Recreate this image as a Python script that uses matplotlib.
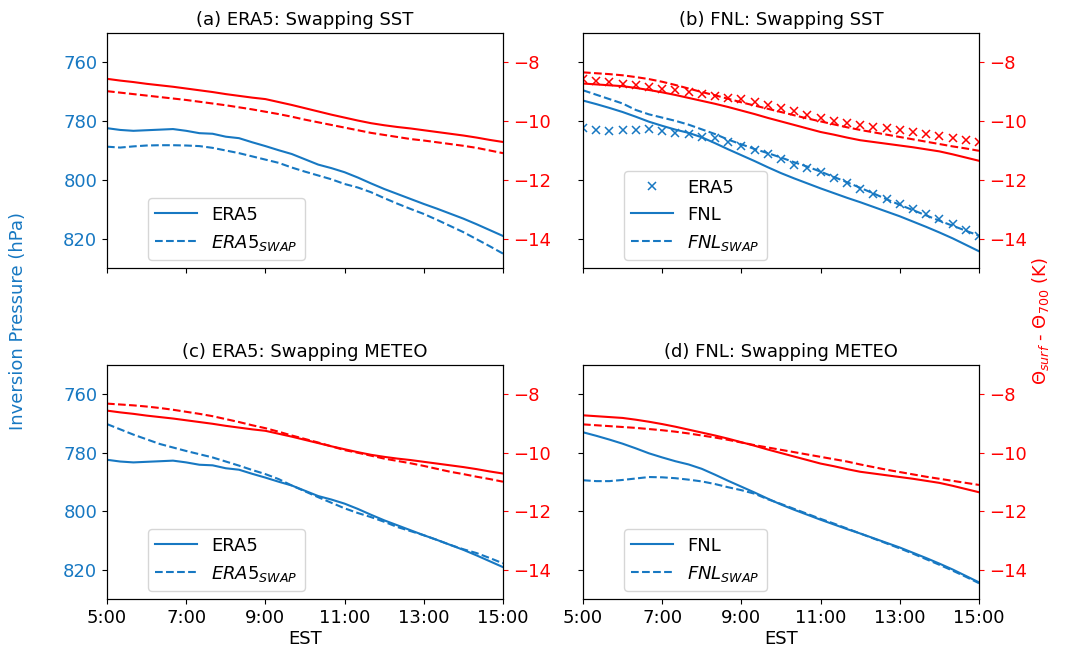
import numpy as np
import matplotlib
matplotlib.use("Agg")
import matplotlib.pyplot as plt

# time axis: 20-minute steps from 5:00 to 15:00 EST
hours = 5 + np.arange(31) / 3.0
xticks = [5, 7, 9, 11, 13, 15]
xticklabels = ["5:00", "7:00", "9:00", "11:00", "13:00", "15:00"]

# inversion pressure (hPa)
era5_p = [782.4, 783.0, 783.3, 783.1, 782.9, 782.7, 783.3, 784.1, 784.3, 785.3,
          785.8, 787.2, 788.5, 789.9, 791.2, 793.0, 794.8, 796.0, 797.4, 799.2,
          801.2, 803.1, 804.8, 806.5, 808.2, 809.8, 811.5, 813.2, 815.1, 817.1, 819.1]
era5_sst_p = [788.7, 789.0, 788.6, 788.3, 788.2, 788.2, 788.3, 788.5, 789.1, 790.0,
              790.9, 792.0, 793.1, 794.2, 795.8, 797.2, 798.5, 799.8, 801.4, 802.6,
              804.2, 806.2, 808.1, 809.9, 811.6, 813.6, 815.7, 817.8, 820.2, 822.6, 825.1]
era5_met_p = [770.2, 772.0, 773.8, 775.4, 777.0, 778.2, 779.4, 780.5, 781.6, 783.0,
              784.4, 785.9, 787.3, 789.0, 791.2, 793.2, 795.2, 797.1, 799.0, 800.6,
              802.0, 803.6, 805.4, 806.8, 808.2, 809.8, 811.5, 813.0, 814.3, 816.0, 817.8]
fnl_p = [773.0, 774.2, 775.5, 776.9, 778.5, 780.2, 781.6, 782.9, 784.0, 785.5,
         787.5, 789.6, 791.6, 793.6, 795.7, 797.7, 799.5, 801.2, 802.9, 804.5,
         806.1, 807.6, 809.2, 810.8, 812.4, 814.2, 816.0, 817.9, 819.9, 822.1, 824.3]
fnl_sst_p = [769.5, 771.0, 772.5, 774.0, 776.2, 777.7, 778.8, 779.9, 781.2, 782.8,
             784.4, 786.3, 787.9, 789.5, 790.9, 792.4, 794.0, 795.5, 797.2, 799.0,
             800.8, 802.7, 804.6, 806.6, 808.5, 810.3, 812.1, 813.9, 815.6, 817.3, 819.0]
fnl_met_p = [789.4, 789.7, 789.7, 789.3, 788.8, 788.3, 788.4, 788.7, 789.2, 789.8,
             790.7, 791.8, 792.8, 794.0, 795.9, 797.5, 799.2, 800.9, 802.6, 804.2,
             805.9, 807.6, 809.3, 811.0, 812.7, 814.5, 816.4, 818.3, 820.3, 822.4, 824.6]

# theta_surf - theta_700 (K)
era5_t = [-8.56, -8.62, -8.67, -8.73, -8.78, -8.83, -8.89, -8.95, -9.01, -9.08,
          -9.14, -9.20, -9.25, -9.35, -9.45, -9.56, -9.67, -9.78, -9.88, -9.98,
          -10.07, -10.14, -10.20, -10.25, -10.31, -10.37, -10.43, -10.49, -10.56, -10.64, -10.71]
era5_sst_t = [-8.98, -9.03, -9.08, -9.13, -9.18, -9.23, -9.28, -9.34, -9.40, -9.46,
              -9.53, -9.60, -9.68, -9.76, -9.85, -9.95, -10.04, -10.13, -10.22, -10.31,
              -10.40, -10.47, -10.54, -10.61, -10.66, -10.72, -10.78, -10.84, -10.91, -11.00, -11.09]
era5_met_t = [-8.32, -8.35, -8.38, -8.42, -8.47, -8.53, -8.60, -8.67, -8.75, -8.85,
              -8.95, -9.06, -9.16, -9.28, -9.41, -9.53, -9.65, -9.78, -9.91, -10.00,
              -10.10, -10.20, -10.28, -10.36, -10.45, -10.55, -10.65, -10.73, -10.82, -10.90, -10.99]
fnl_t = [-8.72, -8.75, -8.78, -8.81, -8.87, -8.94, -9.02, -9.11, -9.21, -9.31,
         -9.41, -9.52, -9.64, -9.76, -9.89, -10.01, -10.13, -10.25, -10.37, -10.46,
         -10.56, -10.65, -10.71, -10.77, -10.83, -10.89, -10.96, -11.03, -11.13, -11.24, -11.35]
fnl_sst_t = [-8.34, -8.37, -8.40, -8.44, -8.50, -8.57, -8.66, -8.77, -8.89, -9.01,
             -9.12, -9.24, -9.36, -9.47, -9.58, -9.69, -9.80, -9.91, -10.01, -10.11,
             -10.21, -10.30, -10.38, -10.46, -10.54, -10.62, -10.70, -10.78, -10.86, -10.93, -11.01]
fnl_met_t = [-9.03, -9.06, -9.09, -9.12, -9.15, -9.19, -9.23, -9.28, -9.34, -9.41,
             -9.48, -9.56, -9.65, -9.74, -9.82, -9.90, -9.98, -10.06, -10.14, -10.22,
             -10.30, -10.40, -10.49, -10.58, -10.66, -10.74, -10.82, -10.89, -10.96, -11.03, -11.10]

BLUE = "#1778c2"
RED = "#ff0000"
FS = 13

fig = plt.figure(figsize=(10.69, 6.48), dpi=100)

W, H = 396 / 1069, 235 / 648
positions = {
    "a": [107 / 1069, 380 / 648, W, H],
    "b": [583 / 1069, 380 / 648, W, H],
    "c": [107 / 1069, 49 / 648, W, 234 / 648],
    "d": [583 / 1069, 49 / 648, W, 234 / 648],
}

panels = [
    ("a", "(a) ERA5: Swapping SST", era5_p, era5_sst_p, era5_t, era5_sst_t, "ERA5", False),
    ("b", "(b) FNL: Swapping SST", fnl_p, fnl_sst_p, fnl_t, fnl_sst_t, "FNL", True),
    ("c", "(c) ERA5: Swapping METEO", era5_p, era5_met_p, era5_t, era5_met_t, "ERA5", False),
    ("d", "(d) FNL: Swapping METEO", fnl_p, fnl_met_p, fnl_t, fnl_met_t, "FNL", False),
]

for key, title, p, p_swap, t, t_swap, name, with_era5 in panels:
    ax = fig.add_axes(positions[key])
    ax2 = ax.twinx()

    handles = []
    if with_era5:
        h0, = ax.plot(hours, era5_p, ls="none", marker="x", ms=6, mew=1.1,
                      color=BLUE, label="ERA5")
        ax2.plot(hours, era5_t, ls="none", marker="x", ms=6, mew=1.1, color=RED)
        handles.append(h0)
    h1, = ax.plot(hours, p, color=BLUE, lw=1.5, label=name)
    h2, = ax.plot(hours, p_swap, color=BLUE, lw=1.5, ls="--",
                  label=r"$%s_{SWAP}$" % name)
    handles += [h1, h2]
    ax2.plot(hours, t, color=RED, lw=1.5)
    ax2.plot(hours, t_swap, color=RED, lw=1.5, ls="--")

    ax.set_xlim(5, 15)
    ax.set_ylim(830, 750)
    ax2.set_ylim(-15, -7)
    ax.set_yticks([760, 780, 800, 820])
    ax2.set_yticks([-8, -10, -12, -14])
    ax.set_xticks(xticks)
    if key in ("c", "d"):
        ax.set_xticklabels(xticklabels, fontsize=FS)
        ax.set_xlabel("EST", fontsize=FS, labelpad=2)
    else:
        ax.set_xticklabels([])
    if key in ("b", "d"):
        ax.set_yticklabels([])

    ax.tick_params(axis="y", labelcolor=BLUE, labelsize=FS)
    ax.tick_params(axis="x", labelsize=FS)
    ax2.tick_params(axis="y", colors=RED, labelsize=FS)
    ax.set_title(title, fontsize=FS, pad=6)

    ax.legend(handles=handles, loc="lower left", bbox_to_anchor=(0.083, 0.0),
              fontsize=FS, handlelength=2.3, borderaxespad=0.45)

fig.text(0.017, 0.505, "Inversion Pressure (hPa)", color=BLUE, fontsize=FS,
         rotation=90, ha="center", va="center")
fig.text(0.973, 0.505, r"$\Theta_{surf}$ - $\Theta_{700}$ (K)", color=RED,
         fontsize=FS, rotation=90, ha="center", va="center")

fig.savefig("out.png", dpi=100)
